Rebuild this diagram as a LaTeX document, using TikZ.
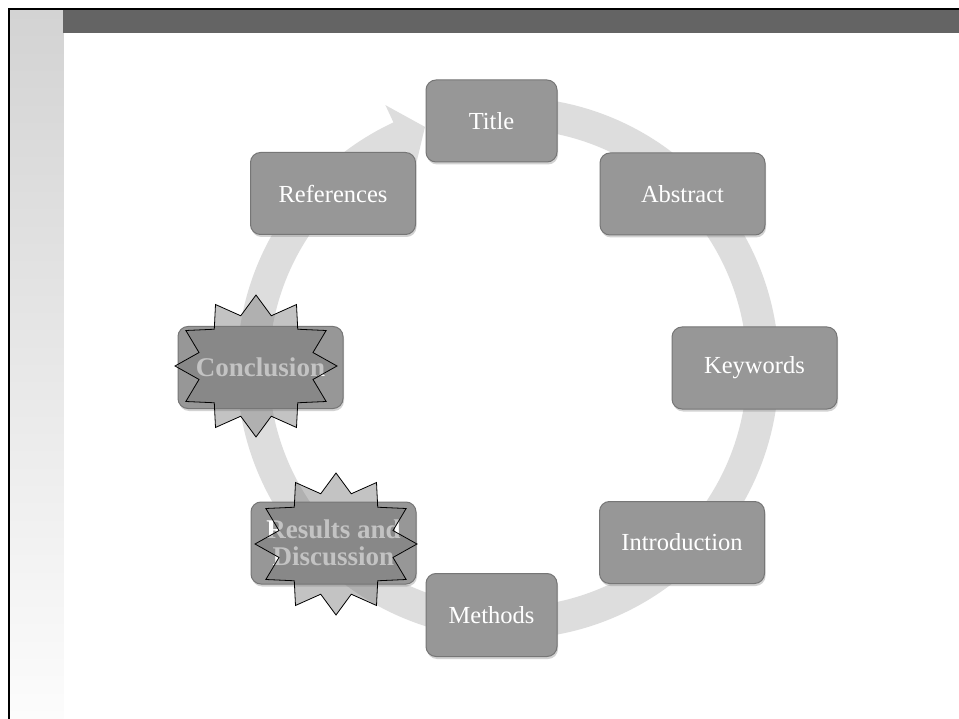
\documentclass[tikz,border=0pt]{standalone}
\usepackage{fontspec}
\setmainfont{Liberation Serif}
\usetikzlibrary{calc,shadows}
\definecolor{boxfill}{RGB}{151,151,151}
\definecolor{boxedge}{RGB}{118,118,118}
\definecolor{bandgray}{RGB}{221,221,221}
\definecolor{barcol}{RGB}{100,100,100}
\definecolor{coltop}{RGB}{211,211,211}
\definecolor{colbot}{RGB}{252,252,252}
\definecolor{starfill}{RGB}{118,118,118}
\newcommand\mystarburst[2]{%
  \draw[burst] plot[samples at={0,...,23}, variable=\k]
    ({#1+(81-22*mod(\k,2))*cos(90+15*\k)},{#2-(71-19*mod(\k,2))*sin(90+15*\k)}) -- cycle;}
\begin{document}
\begin{tikzpicture}[x=1pt,y=-1pt,
  stepbox/.style={rounded corners=10pt, fill=boxfill, draw=boxedge, line width=1pt,
    text=white, font=\fontsize{24.5}{26}\selectfont, inner sep=0pt, align=center,
    drop shadow={shadow xshift=1pt, shadow yshift=-2.5pt, opacity=0.35}},
  wide/.style={minimum width=165pt, minimum height=82pt},
  narrow/.style={minimum width=131pt, minimum height=82pt},
  hl/.style={font=\bfseries\fontsize{27}{27}\selectfont},
  burst/.style={fill=starfill, fill opacity=0.43, draw=black, draw opacity=1,
    line width=0.8pt, line join=miter},
  band/.style={fill=bandgray}
]
\useasboundingbox (0,0) rectangle (959,719);
\fill[white] (0,0) rectangle (959,719);
% slide decoration
\shade[top color=coltop, bottom color=colbot] (10,10) rectangle (63.3,719);
\fill[barcol] (63.3,10.3) rectangle (959,32.7);
\draw[black, line width=2.5pt] (9,719) -- (9,9) -- (959,9);

% circular arrow band
\coordinate (C) at (508,368);
\fill[band] ($(C)+(-85:271)$) arc[start angle=-85, end angle=245, radius=271]
  -- ($(C)+(245:290)$) -- ($(C)+(251:255)$) -- ($(C)+(245:220)$)
  -- ($(C)+(245:239)$) arc[start angle=245, end angle=-85, radius=239] -- cycle;

% boxes
\node[stepbox, narrow] (title) at (491.5,121) {Title};
\node[stepbox, wide] (abstract) at (682.5,194) {Abstract};
\node[stepbox, wide] (keywords) at (754.5,368) {Keywords};
\node[stepbox, wide] (intro) at (682,542.5) {Introduction};
\node[stepbox, narrow, minimum height=83pt] (methods) at (491.5,615) {Methods};
\node[stepbox, wide, hl] (results) at (333.5,543) {Results and\\Discussion};
\node[stepbox, wide, hl] (conclusion) at (260.5,367.5) {Conclusion};
\node[stepbox, wide] (refs) at (333,193.5) {References};

% starbursts
\mystarburst{256}{366}
\mystarburst{336}{544}
\end{tikzpicture}
\end{document}
